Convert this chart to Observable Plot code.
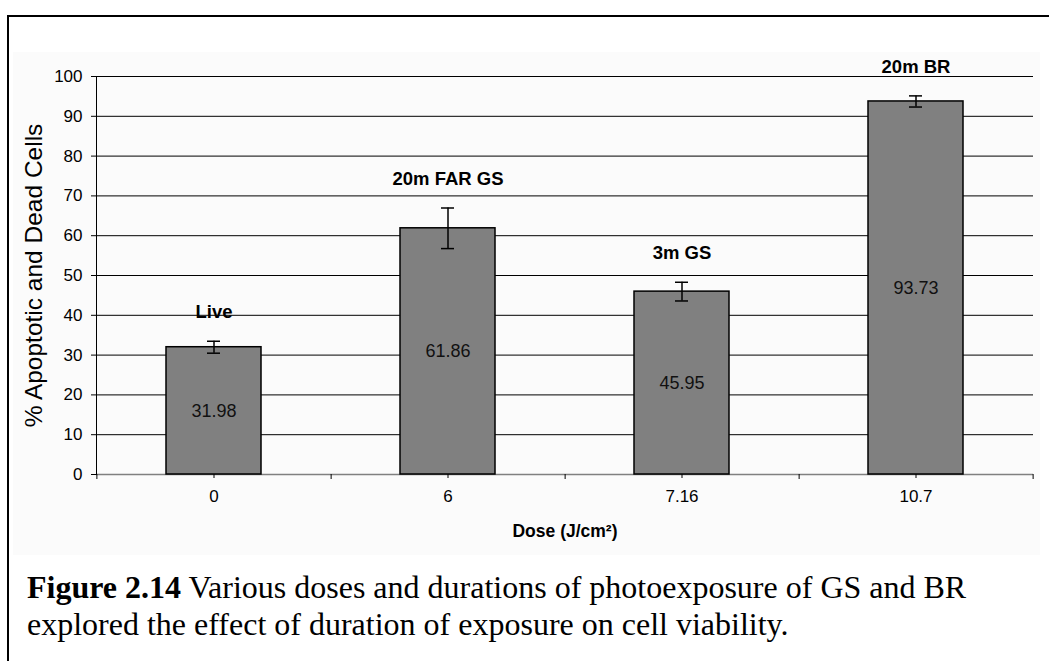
<!DOCTYPE html>
<html>
<head>
<meta charset="utf-8">
<script src="https://cdn.jsdelivr.net/npm/d3@7"></script>
<script src="https://cdn.jsdelivr.net/npm/@observablehq/plot@0.6"></script>
<style>
  html, body { margin: 0; padding: 0; background: #fff; width: 1049px; height: 661px; overflow: hidden; }
  #frame { position: absolute; left: 7px; top: 15px; width: 1100px; height: 700px;
           border-left: 2px solid #000; border-top: 2px solid #000; }
  #chart { position: absolute; left: 13px; top: 52px; width: 1027px; height: 503px; }
  #caption { position: absolute; left: 27px; top: 569px; width: 1020px; white-space: nowrap;
             font-family: "Liberation Serif", "Times New Roman", serif; font-size: 32px;
             line-height: 37px; color: #000; }
</style>
</head>
<body>
<div id="frame"></div>
<div id="chart"></div>
<div id="caption"><b>Figure 2.14</b> Various doses and durations of photoexposure of GS and BR<br>explored the effect of duration of exposure on cell viability.</div>
<script>
const doses = ["0", "6", "7.16", "10.7"];
const groups = ["Live", "20m FAR GS", "3m GS", "20m BR"];
const values = [31.98, 61.86, 45.95, 93.73];
const errors = [1.5, 5.1, 2.35, 1.4];
const yTicks = [0, 10, 20, 30, 40, 50, 60, 70, 80, 90, 100];
const gridTicks = [10, 20, 30, 40, 50, 60, 70, 80, 90, 100];

const data = doses.map((d, i) => ({dose: d, group: groups[i], value: values[i], err: errors[i]}));

const W = 1027, H = 503, mL = 83, mR = 7, mT = 24, mB = 81;
const halfStep = (W - mL - mR) / doses.length / 2;

const chart = Plot.plot({
  width: W, height: H,
  marginLeft: mL, marginRight: mR, marginTop: mT, marginBottom: mB,
  style: {background: "#fbfbfb", fontFamily: "'Liberation Sans', Arial, sans-serif", color: "#000", overflow: "visible"},
  x: {domain: doses, paddingInner: 0.595, paddingOuter: 0.2975, axis: null},
  y: {domain: [0, 100], axis: null},
  marks: [
    Plot.gridY(gridTicks, {stroke: "#000", strokeOpacity: 1}),
    Plot.ruleY([0], {stroke: "#808080", strokeWidth: 1.5}),
    Plot.frame({anchor: "left", stroke: "#000"}),
    Plot.axisY(yTicks, {anchor: "left", tickSize: 5, tickPadding: 9, fontSize: 17, label: null}),
    Plot.axisY({anchor: "left", ticks: [], tickSize: 0, label: "% Apoptotic and Dead Cells",
                labelAnchor: "center", labelArrow: "none", labelOffset: 72, fontSize: 24.5}),
    Plot.axisX({anchor: "bottom", text: null, tickSize: 8, dy: -4, label: null}),
    Plot.axisX({anchor: "bottom", text: null, tickSize: 5, dx: halfStep, label: null}),
    Plot.axisX([doses[0]], {anchor: "bottom", text: null, tickSize: 5, dx: -halfStep, label: null}),
    Plot.axisX({anchor: "bottom", tickSize: 0, tickPadding: 15, fontSize: 17, label: null}),
    Plot.axisX({anchor: "bottom", ticks: [], tickSize: 0, label: "Dose (J/cm²)", labelAnchor: "center",
                labelArrow: "none", labelOffset: 62, fontSize: 17.5, fontWeight: "bold"}),
    Plot.barY(data, {x: "dose", y: "value", fill: "#808080", stroke: "#000", strokeWidth: 1.5}),
    Plot.ruleX(data, {x: "dose", y1: d => d.value - d.err, y2: d => d.value + d.err, stroke: "#000", strokeWidth: 1.5}),
    Plot.tickY(data, {x: "dose", y: d => d.value + d.err, insetLeft: 41, insetRight: 41, stroke: "#000", strokeWidth: 1.5}),
    Plot.tickY(data, {x: "dose", y: d => d.value - d.err, insetLeft: 41, insetRight: 41, stroke: "#000", strokeWidth: 1.5}),
    Plot.text(data, {x: "dose", y: d => d.value / 2, text: d => d.value.toFixed(2), fontSize: 18, fill: "#111"}),
    Plot.text(data, {x: "dose", y: d => d.value + d.err, dy: -29, text: "group", fontSize: 18.5, fontWeight: "bold", fill: "#000"})
  ]
});
document.getElementById("chart").appendChild(chart);
</script>
</body>
</html>
